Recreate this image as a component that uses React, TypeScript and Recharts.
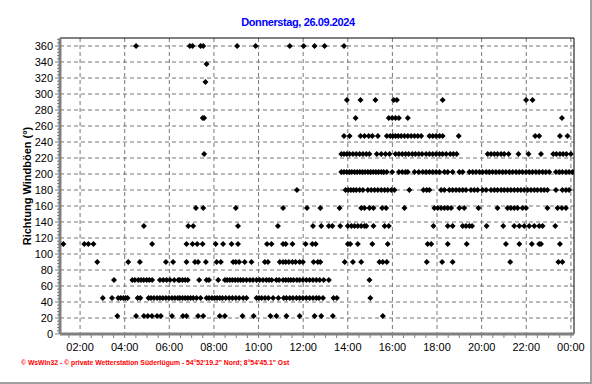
import React from "react";
import { CartesianGrid, ReferenceLine, Scatter, ScatterChart, XAxis, YAxis } from "recharts";

// times (decimal hours) at which each gust direction was logged
const at22 = [3.67, 4.51, 4.86, 5.04, 5.22, 5.45, 5.62, 6.12, 6.61, 6.77, 7.29, 7.52, 8.26, 8.49, 9.28, 9.78, 10.53, 10.8, 11.25, 11.84, 12.51, 12.81, 13.33, 15.57];
const at45 = [3.02, 3.43, 3.71, 3.82, 3.94, 4.04, 4.13, 4.58, 4.7, 5.07, 5.18, 5.31, 5.45, 5.58, 5.71, 5.85, 5.98, 6.12, 6.25, 6.38, 6.47, 6.59, 6.71, 6.83, 6.95, 7.07, 7.22, 7.4, 7.67, 7.78, 7.91, 8.03, 8.14, 8.26, 8.38, 8.53, 8.68, 8.83, 8.98, 9.13, 9.31, 9.46, 9.91, 10.02, 10.14, 10.29, 10.44, 10.65, 10.89, 11.13, 11.25, 11.4, 11.54, 11.7, 11.84, 11.99, 12.14, 12.29, 12.44, 12.59, 12.71, 12.89, 13.36, 13.51, 15.01];
const at67 = [3.52, 4.34, 4.46, 4.61, 4.73, 4.85, 4.98, 5.1, 5.23, 5.58, 5.73, 5.88, 6.03, 6.22, 6.4, 6.47, 6.59, 6.71, 6.83, 7.34, 7.67, 7.78, 8.19, 8.49, 8.59, 8.71, 8.83, 8.95, 9.07, 9.19, 9.31, 9.46, 9.61, 9.75, 9.91, 10.05, 10.2, 10.35, 10.47, 10.59, 10.8, 10.92, 11.1, 11.22, 11.34, 11.45, 11.57, 11.72, 11.84, 11.99, 12.14, 12.29, 12.44, 12.59, 12.74, 12.92, 13.15, 14.97];
const at90 = [2.77, 4.16, 4.68, 5.85, 6.17, 6.77, 7.15, 7.29, 7.64, 8.12, 8.31, 8.86, 8.98, 9.13, 9.38, 9.68, 10.28, 10.42, 10.95, 11.1, 11.22, 11.36, 11.52, 11.66, 11.84, 11.99, 12.47, 12.66, 12.77, 13.86, 14.23, 14.6, 15.42, 15.57, 15.75, 17.54, 18.23, 18.7, 21.28, 23.44, 23.62];
const at112 = [1.25, 2.19, 2.37, 2.6, 5.23, 6.77, 7.04, 7.25, 7.49, 8.08, 8.41, 8.79, 9.08, 10.38, 10.58, 11.1, 11.22, 11.52, 12.11, 12.41, 12.56, 14.0, 14.11, 14.45, 15.1, 15.79, 17.58, 17.74, 18.48, 19.33, 21.09, 21.69, 22.25, 22.58, 22.66, 23.51];
const at135 = [4.86, 6.85, 7.07, 9.08, 10.87, 12.44, 12.81, 13.15, 13.31, 13.66, 14.0, 14.16, 14.3, 14.45, 14.6, 14.75, 14.83, 15.15, 15.65, 15.84, 17.84, 18.48, 18.7, 19.15, 19.3, 19.45, 19.57, 20.22, 20.97, 21.46, 21.69, 21.91, 22.13, 22.36, 22.58, 22.73, 23.3];
const at157 = [7.19, 7.52, 8.98, 11.1, 12.17, 12.77, 13.63, 14.6, 14.75, 14.97, 15.15, 15.54, 15.72, 16.54, 17.88, 18.03, 18.18, 18.33, 18.48, 18.63, 19.0, 19.22, 19.86, 20.71, 21.16, 21.31, 21.46, 21.61, 21.83, 21.99, 22.95, 23.4, 23.6, 23.78];
const at180 = [11.72, 13.9, 14.02, 14.14, 14.26, 14.38, 14.53, 14.68, 14.9, 15.05, 15.2, 15.35, 15.5, 15.65, 15.79, 15.95, 16.09, 16.76, 17.39, 17.54, 17.66, 18.18, 18.33, 18.55, 18.7, 18.85, 19.0, 19.15, 19.3, 19.52, 19.67, 19.82, 20.04, 20.2, 20.42, 20.57, 20.71, 20.87, 21.01, 21.16, 21.31, 21.46, 21.61, 21.76, 21.91, 22.06, 22.21, 22.36, 22.5, 22.66, 22.8, 22.95, 23.33, 23.62, 23.78, 23.92];
const at202 = [13.71, 13.83, 13.95, 14.07, 14.18, 14.3, 14.42, 14.54, 14.66, 14.78, 14.9, 15.02, 15.14, 15.26, 15.38, 15.5, 15.61, 15.75, 15.99, 16.29, 16.44, 16.59, 16.69, 16.99, 17.18, 17.36, 17.51, 17.66, 17.81, 17.96, 18.11, 18.33, 18.48, 18.7, 19.0, 19.15, 19.45, 19.6, 19.75, 19.9, 20.04, 20.2, 20.34, 20.49, 20.64, 20.79, 20.94, 21.09, 21.24, 21.39, 21.54, 21.69, 21.83, 21.99, 22.13, 22.28, 22.43, 22.58, 22.73, 22.88, 23.03, 23.33, 23.48, 23.62, 23.78, 23.92, 24.07];
const at225 = [7.56, 13.71, 13.83, 13.96, 14.08, 14.23, 14.38, 14.53, 14.68, 14.83, 14.97, 15.3, 15.5, 15.69, 15.87, 16.14, 16.29, 16.44, 16.59, 16.73, 16.89, 17.03, 17.18, 17.33, 17.51, 17.66, 17.81, 17.96, 18.11, 18.25, 18.41, 18.59, 18.73, 18.88, 20.27, 20.42, 20.57, 20.71, 20.87, 21.01, 21.21, 21.65, 22.1, 22.66, 23.21, 23.35, 23.51, 23.65, 23.8, 24.0];
const at247 = [13.83, 14.08, 14.57, 14.75, 14.94, 15.1, 15.35, 15.75, 15.9, 16.02, 16.14, 16.26, 16.39, 16.54, 16.69, 16.84, 16.99, 17.14, 17.29, 17.66, 17.81, 17.96, 18.11, 18.25, 18.97, 22.4, 22.58, 23.51, 23.85];
const at270 = [7.5, 7.56, 14.35, 15.84, 15.99, 16.14, 16.29, 16.69, 23.6];
const at292 = [13.96, 14.57, 15.24, 16.06, 16.2, 18.25, 21.99, 22.28];
const at315 = [7.62];
const at337 = [7.67];
const at360 = [4.51, 6.92, 7.04, 7.4, 7.52, 9.04, 9.87, 11.4, 12.02, 12.51, 12.96, 13.83];

const directions: [number, number[]][] = [
  [22.5, at22], [45, at45], [67.5, at67], [90, at90], [112.5, at112], [135, at135],
  [157.5, at157], [180, at180], [202.5, at202], [225, at225], [247.5, at247],
  [270, at270], [292.5, at292], [315, at315], [337.5, at337], [360, at360],
];

const hourTicks = [2, 4, 6, 8, 10, 12, 14, 16, 18, 20, 22, 24];
const degTicks = [0, 20, 40, 60, 80, 100, 120, 140, 160, 180, 200, 220, 240, 260, 280, 300, 320, 340, 360];

const points = directions.flatMap(([deg, times]) => times.map((t) => ({ t, deg })));

// minor ticks: every half hour, every 4 degrees
const xTicks: number[] = [];
for (let h = 1.5; h <= 24; h += 0.5) xTicks.push(h);
const yTicks: number[] = [];
for (let d = 0; d <= 368; d += 4) yTicks.push(d);

const fmtHour = (h: number) => String(h % 24).padStart(2, "0") + ":00";
const font = "Arial, 'Liberation Sans', sans-serif";

function XTick({ x, y, payload }: any) {
  const v = payload.value;
  const major = hourTicks.includes(v);
  return (
    <g>
      <line x1={x} x2={x} y1={y + 1} y2={y + 4} stroke="#808080" />
      {major && (
        <text x={x} y={y + 17} textAnchor="middle" fontSize={11} fontFamily={font} fill="#000">
          {fmtHour(v)}
        </text>
      )}
    </g>
  );
}

function YTick({ x, y, payload }: any) {
  const v = payload.value;
  const major = degTicks.includes(v);
  return (
    <g>
      <line x1={x - (major ? 5 : 3)} x2={x - 1} y1={y} y2={y} stroke="#808080" />
      {major && (
        <text x={x - 7} y={y + 4} textAnchor="end" fontSize={11} fontFamily={font} fill="#000">
          {v}
        </text>
      )}
    </g>
  );
}

const Diamond = ({ cx, cy }: any) => (
  <path d={`M${cx},${cy - 3}L${cx + 3},${cy}L${cx},${cy + 3}L${cx - 3},${cy}Z`} fill="#000" />
);

export default function App() {
  return (
    <div style={{ position: "absolute", left: 0, top: 0, width: 592, height: 384, background: "#fff", fontFamily: font }}>
      <div style={{ position: "absolute", left: 0, top: 16, width: 596, textAlign: "center", color: "#0000ff", fontWeight: "bold", fontSize: 11, letterSpacing: -0.4 }}>
        Donnerstag, 26.09.2024
      </div>
      <ScatterChart width={592} height={384} margin={{ top: 38, right: 18, bottom: 30, left: 0 }}>
        <CartesianGrid stroke="#777" strokeDasharray="4 3" horizontalValues={degTicks} verticalValues={hourTicks} />
        <XAxis
          type="number"
          dataKey="t"
          domain={[1.1, 24.14]}
          allowDataOverflow
          ticks={xTicks}
          interval={0}
          tick={<XTick />}
          tickSize={0}
          tickMargin={0}
          tickLine={false}
          axisLine={{ stroke: "#808080", strokeWidth: 3 }}
          height={20}
        />
        <YAxis
          type="number"
          dataKey="deg"
          domain={[0, 370]}
          allowDataOverflow
          ticks={yTicks}
          interval={0}
          tick={<YTick />}
          tickSize={0}
          tickMargin={0}
          tickLine={false}
          axisLine={{ stroke: "#808080", strokeWidth: 3 }}
          width={60}
          label={{
            value: "Richtung Windböen  (°)",
            angle: -90,
            position: "insideLeft",
            offset: 27,
            style: { textAnchor: "middle", fontWeight: "bold", fontSize: 11, fill: "#000", fontFamily: font },
          }}
        />
        <ReferenceLine y={370} stroke="#000" />
        <ReferenceLine x={24.14} stroke="#000" />
        <Scatter data={points} fill="#000" shape={Diamond} isAnimationActive={false} />
      </ScatterChart>
      <div style={{ position: "absolute", left: 21, top: 359, color: "#ff0000", fontWeight: "bold", fontSize: 6.8, whiteSpace: "nowrap" }}>
        © WsWin32 - © private Wetterstation Süderlügum - 54°52'19.2" Nord; 8°54'45.1" Ost
      </div>
      <div style={{ position: "absolute", left: 0, top: 0, width: 592, height: 384, boxSizing: "border-box", borderRight: "2px solid #a0a0a0", borderBottom: "2px solid #a0a0a0", pointerEvents: "none" }} />
    </div>
  );
}
